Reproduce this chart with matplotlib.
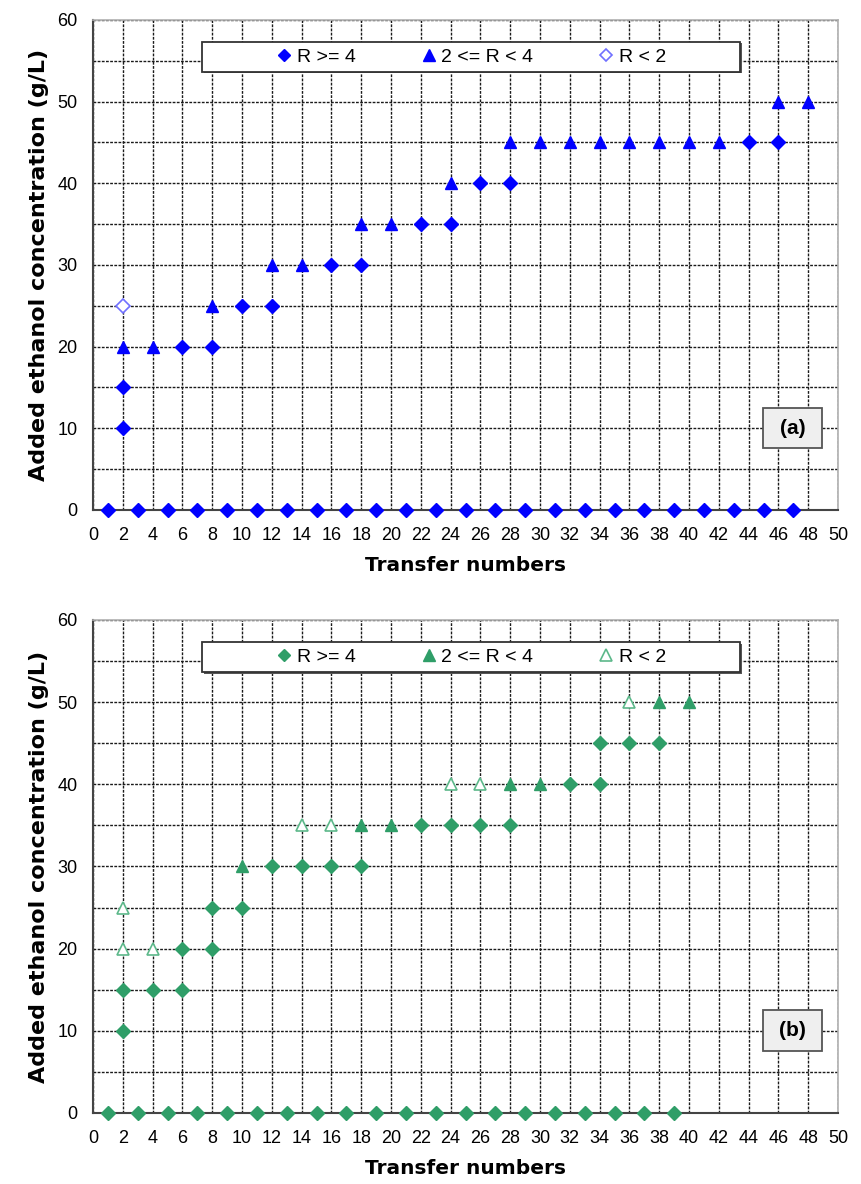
import matplotlib
matplotlib.use('Agg')
import matplotlib.pyplot as plt
from matplotlib.patches import Rectangle

plt.rcParams['font.family'] = ['Liberation Sans', 'DejaVu Sans']

# ---- Data panel (a) ----
a_high_x = [1, 3, 5, 7, 9, 11, 13, 15, 17, 19, 21, 23, 25, 27, 29, 31, 33, 35, 37, 39, 41, 43, 45, 47,
            2, 2, 6, 8, 10, 12, 16, 18, 22, 24, 26, 28, 44, 46]
a_high_y = [0, 0, 0, 0, 0, 0, 0, 0, 0, 0, 0, 0, 0, 0, 0, 0, 0, 0, 0, 0, 0, 0, 0, 0,
            10, 15, 20, 20, 25, 25, 30, 30, 35, 35, 40, 40, 45, 45]
a_mid_x = [2, 4, 8, 12, 14, 18, 20, 24, 28, 30, 32, 34, 36, 38, 40, 42, 46, 48]
a_mid_y = [20, 20, 25, 30, 30, 35, 35, 40, 45, 45, 45, 45, 45, 45, 45, 45, 50, 50]
a_low_x = [2]
a_low_y = [25]

# ---- Data panel (b) ----
b_high_x = [1, 3, 5, 7, 9, 11, 13, 15, 17, 19, 21, 23, 25, 27, 29, 31, 33, 35, 37, 39,
            2, 2, 4, 6, 6, 8, 8, 10, 12, 14, 16, 18, 22, 24, 26, 28, 32, 34, 34, 36, 38]
b_high_y = [0, 0, 0, 0, 0, 0, 0, 0, 0, 0, 0, 0, 0, 0, 0, 0, 0, 0, 0, 0,
            10, 15, 15, 15, 20, 20, 25, 25, 30, 30, 30, 30, 35, 35, 35, 35, 40, 40, 45, 45, 45]
b_mid_x = [10, 18, 20, 28, 30, 38, 40]
b_mid_y = [30, 35, 35, 40, 40, 50, 50]
b_low_x = [2, 2, 4, 14, 16, 24, 26, 36]
b_low_y = [20, 25, 20, 35, 35, 40, 40, 50]

labels = ['R >= 4', '2 <= R < 4', 'R < 2']
x_ticks = list(range(0, 51, 2))
y_ticks = [0, 10, 20, 30, 40, 50, 60]


def draw_panel(ax, high, mid, low, color, light, letter, open_marker):
    # trois series: plein, triangle plein, symbole vide
    ax.plot(high[0], high[1], 'D', color=color, ms=7, ls='none',
            clip_on=False, zorder=5, label=labels[0])
    ax.plot(mid[0], mid[1], '^', color=color, ms=9, ls='none',
            clip_on=False, zorder=5, label=labels[1])
    ax.plot(low[0], low[1], open_marker, mfc='white', mec=light, mew=1.2,
            ms=7 if open_marker == 'D' else 9, ls='none',
            clip_on=False, zorder=5, label=labels[2])

    ax.set_xlim(0, 50)
    ax.set_ylim(0, 60)
    ax.set_xticks(x_ticks)
    ax.set_yticks(y_ticks)
    ax.set_yticks(range(5, 60, 10), minor=True)
    ax.tick_params(axis='both', length=0, labelsize=13)
    ax.tick_params(axis='x', pad=12)
    ax.tick_params(axis='y', pad=11)
    ax.tick_params(which='minor', length=0)

    # grille pointillee
    ax.grid(True, which='both', color='#1a1a1a', lw=1.0, ls=(0, (2, 1)))
    ax.set_axisbelow(True)

    for s in ['left', 'bottom']:
        ax.spines[s].set_color('#444444')
        ax.spines[s].set_linewidth(1.5)
    for s in ['top', 'right']:
        ax.spines[s].set_color('#b0b0b0')
        ax.spines[s].set_linewidth(1.2)

    ax.set_xlabel('Transfer numbers', fontsize=14.5, fontweight='bold',
                  family='DejaVu Sans', labelpad=9)
    ax.set_ylabel('Added ethanol concentration (g/L)', fontsize=16,
                  fontweight='bold', family='DejaVu Sans', labelpad=6)

    # cadre de legende (avec ombre)
    ax.add_patch(Rectangle((0.149, 0.891), 0.722, 0.061, transform=ax.transAxes,
                           facecolor='#555555', edgecolor='none', zorder=6))
    ax.add_patch(Rectangle((0.146, 0.894), 0.722, 0.061, transform=ax.transAxes,
                           facecolor='white', edgecolor='#333333', lw=1.3, zorder=6))
    leg = ax.legend(loc='center', bbox_to_anchor=(0.507, 0.9245), ncol=3,
                    frameon=False, fontsize=14, handlelength=0.9,
                    handletextpad=0.2, columnspacing=3.3, borderpad=0.2,
                    markerscale=0.9)
    leg.set_zorder(7)

    # etiquette (a) / (b)
    ax.add_patch(Rectangle((0.899, 0.126), 0.0795, 0.082, transform=ax.transAxes,
                           facecolor='#efefef', edgecolor='#555555', lw=1.3, zorder=6))
    ax.text(0.9388, 0.167, letter, transform=ax.transAxes, ha='center', va='center',
            fontsize=15, fontweight='bold', zorder=7)


fig = plt.figure(figsize=(8.62, 11.84), dpi=100)
ax1 = fig.add_axes([0.1079, 0.5693, 0.8643, 0.4139])
ax2 = fig.add_axes([0.1079, 0.0600, 0.8643, 0.4164])

draw_panel(ax1, (a_high_x, a_high_y), (a_mid_x, a_mid_y), (a_low_x, a_low_y),
           '#0000ff', '#7070ff', '(a)', 'D')
draw_panel(ax2, (b_high_x, b_high_y), (b_mid_x, b_mid_y), (b_low_x, b_low_y),
           '#2f9e68', '#5cb88a', '(b)', '^')

fig.savefig('out.png', dpi=100)
